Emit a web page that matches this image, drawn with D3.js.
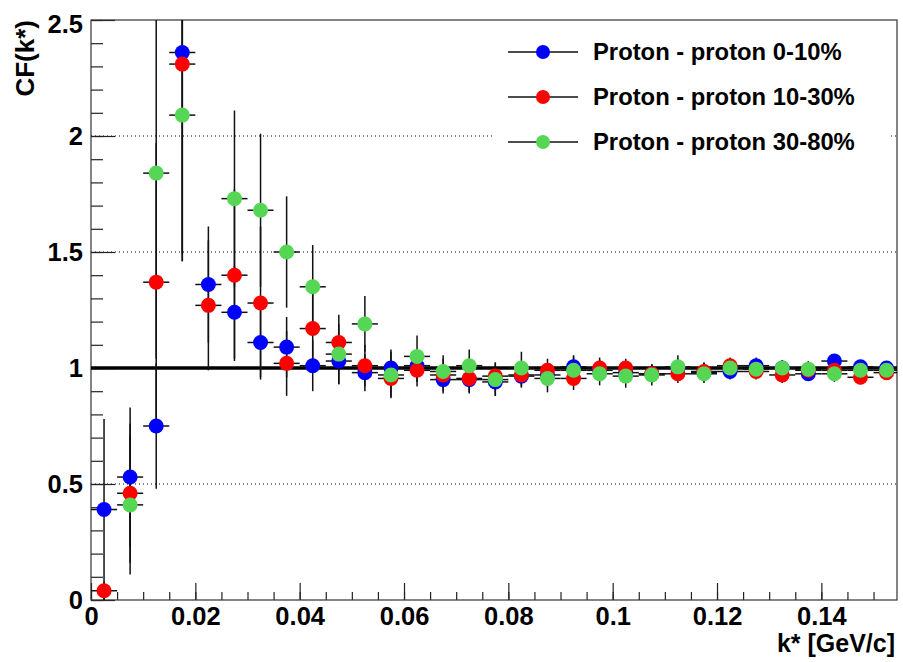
<!doctype html>
<head>
  <meta charset="utf-8">
  <script src="https://d3js.org/d3.v7.min.js"></script>
  <style>
    body { margin: 0; background: #fff; }
    text { font-family: "Liberation Sans", Arial, sans-serif; font-weight: bold; fill: #000; }
  </style>
</head>
<body>
<div id="viz"></div>
<script>

// bin centres of k* [GeV/c]
var kStar = [0.0025, 0.0075, 0.0125, 0.0175, 0.0225, 0.0275, 0.0325, 0.0375, 0.0425, 0.0475,
             0.0525, 0.0575, 0.0625, 0.0675, 0.0725, 0.0775, 0.0825, 0.0875, 0.0925, 0.0975,
             0.1025, 0.1075, 0.1125, 0.1175, 0.1225, 0.1275, 0.1325, 0.1375, 0.1425, 0.1475, 0.1525]

var cf0to10 = [0.39, 0.53, 0.75, 2.36, 1.36, 1.24, 1.11, 1.09, 1.01, 1.03,
               0.98, 1.00, 1.01, 0.95, 0.95, 0.94, 0.965, 0.97, 1.005, 0.99,
               0.98, 0.975, 1.00, 0.98, 0.985, 1.01, 1.00, 0.975, 1.03, 1.005, 1.00]
var err0to10 = [0.39, 0.30, 0.27, 0.90, 0.25, 0.20, 0.15, 0.13, 0.11, 0.10,
                0.08, 0.08, 0.07, 0.06, 0.06, 0.06, 0.05, 0.05, 0.05, 0.045,
                0.04, 0.04, 0.04, 0.04, 0.035, 0.035, 0.035, 0.03, 0.03, 0.03, 0.03]

var cf10to30 = [0.04, 0.46, 1.37, 2.31, 1.27, 1.40, 1.28, 1.02, 1.17, 1.11,
                1.01, 0.955, 0.99, 0.97, 0.955, 0.965, 0.97, 0.99, 0.955, 1.00,
                1.00, 0.975, 0.975, 0.985, 1.01, 0.985, 0.97, 0.99, 0.99, 0.96, 0.98]
var err10to30 = [0.04, 0.30, 0.60, 0.85, 0.28, 0.37, 0.33, 0.14, 0.17, 0.12,
                 0.09, 0.08, 0.07, 0.07, 0.06, 0.06, 0.05, 0.05, 0.05, 0.045,
                 0.04, 0.04, 0.04, 0.04, 0.035, 0.035, 0.035, 0.03, 0.03, 0.03, 0.03]

var cf30to80 = [null, 0.41, 1.84, 2.09, null, 1.73, 1.68, 1.50, 1.35, 1.06,
                1.19, 0.97, 1.05, 0.985, 1.01, 0.95, 1.00, 0.955, 0.99, 0.975,
                0.965, 0.97, 1.005, 0.975, 1.00, 0.995, 1.00, 0.995, 0.975, 0.99, 0.99]
var err30to80 = [null, 0.30, 0.80, 0.60, null, 0.38, 0.33, 0.24, 0.18, 0.13,
                 0.12, 0.10, 0.09, 0.07, 0.07, 0.07, 0.07, 0.06, 0.06, 0.05,
                 0.05, 0.045, 0.05, 0.04, 0.04, 0.04, 0.035, 0.035, 0.035, 0.03, 0.03]

var seriesNames = ['Proton - proton 0-10%', 'Proton - proton 10-30%', 'Proton - proton 30-80%']
var seriesColors = ['#0000ff', '#ff0000', '#55d655']
var xTicks = [0, 0.02, 0.04, 0.06, 0.08, 0.1, 0.12, 0.14]
var yTicks = [0, 0.5, 1, 1.5, 2, 2.5]
var binHalfWidth = 0.0025

var series = [
  { name: seriesNames[0], color: seriesColors[0], vals: cf0to10, errs: err0to10 },
  { name: seriesNames[1], color: seriesColors[1], vals: cf10to30, errs: err10to30 },
  { name: seriesNames[2], color: seriesColors[2], vals: cf30to80, errs: err30to80 }
]

var W = 903, H = 662
var padL = 91, padR = 897, padT = 20, padB = 600

var x = d3.scaleLinear().domain([0, 0.1545]).range([padL, padR])
var y = d3.scaleLinear().domain([0, 2.5]).range([padB, padT])

var svg = d3.select('#viz').append('svg')
  .attr('width', W)
  .attr('height', H)

svg.append('defs').append('clipPath').attr('id', 'plotclip')
  .append('rect')
  .attr('x', padL).attr('y', padT)
  .attr('width', padR - padL).attr('height', padB - padT)

// dotted horizontal grid
svg.append('g').selectAll('line')
  .data(yTicks.filter(function(v) { return v > 0 && v < 2.5 && v != 1; }))
  .enter().append('line')
  .attr('x1', padL).attr('x2', padR)
  .attr('y1', function(d) { return y(d); })
  .attr('y2', function(d) { return y(d); })
  .style('stroke', '#000')
  .style('stroke-width', 1)
  .style('stroke-dasharray', '1,3')

// y axis: minor then major ticks, pointing into the frame
var yMinor = d3.range(0, 2.5001, 0.1)
svg.append('g').attr('transform', 'translate(' + padL + ',0)')
  .call(d3.axisLeft(y).tickValues(yMinor).tickSize(-12).tickFormat(''))
  .call(function(g) { g.select('.domain').remove(); })
svg.append('g').attr('transform', 'translate(' + padL + ',0)')
  .call(d3.axisLeft(y).tickValues(yTicks).tickSize(-24).tickPadding(8)
    .tickFormat(function(d) { return d3.format('')(d); }))
  .call(function(g) {
    g.select('.domain').remove()
    g.selectAll('text').style('font-size', '25.5px')
      .attr('y', function(d) { return d == 2.5 ? 4 : 0; })
  })

// x axis
var xMinor = d3.range(0, 0.1546, 0.005)
svg.append('g').attr('transform', 'translate(0,' + padB + ')')
  .call(d3.axisBottom(x).tickValues(xMinor).tickSize(-8).tickFormat(''))
  .call(function(g) { g.select('.domain').remove(); })
svg.append('g').attr('transform', 'translate(0,' + padB + ')')
  .call(d3.axisBottom(x).tickValues(xTicks).tickSize(-17).tickPadding(7)
    .tickFormat(function(d) { return d3.format('')(d); }))
  .call(function(g) {
    g.select('.domain').remove()
    g.selectAll('text').style('font-size', '25.5px')
  })

svg.selectAll('.tick line').style('stroke', '#222').style('stroke-width', 1.2)

// frame
svg.append('rect')
  .attr('x', padL).attr('y', padT)
  .attr('width', padR - padL).attr('height', padB - padT)
  .style('fill', 'none')
  .style('stroke', '#333')
  .style('stroke-width', 1.2)

// reference line at CF = 1
svg.append('line')
  .attr('x1', padL).attr('x2', padR)
  .attr('y1', y(1)).attr('y2', y(1))
  .style('stroke', '#000')
  .style('stroke-width', 3.5)

var plot = svg.append('g').attr('clip-path', 'url(#plotclip)')

// error bars
series.forEach(function(s) {
  var pts = kStar.map(function(k, i) { return { k: k, v: s.vals[i], e: s.errs[i] }; })
    .filter(function(p) { return p.v != null; })
  var g = plot.append('g')
  g.selectAll('line.ex').data(pts).enter().append('line')
    .attr('x1', function(d) { return x(d.k - binHalfWidth); })
    .attr('x2', function(d) { return x(d.k + binHalfWidth); })
    .attr('y1', function(d) { return y(d.v); })
    .attr('y2', function(d) { return y(d.v); })
    .style('stroke', '#111').style('stroke-width', 1.5)
  g.selectAll('line.ey').data(pts).enter().append('line')
    .attr('x1', function(d) { return x(d.k); })
    .attr('x2', function(d) { return x(d.k); })
    .attr('y1', function(d) { return y(d.v - d.e); })
    .attr('y2', function(d) { return y(d.v + d.e); })
    .style('stroke', '#111').style('stroke-width', 1.5)
})

// markers
series.forEach(function(s) {
  var pts = kStar.map(function(k, i) { return { k: k, v: s.vals[i] }; })
    .filter(function(p) { return p.v != null; })
  plot.append('g').selectAll('circle').data(pts).enter().append('circle')
    .attr('r', 7.5)
    .attr('cx', function(d) { return x(d.k); })
    .attr('cy', function(d) { return y(d.v); })
    .style('fill', s.color)
})

// legend
var legend = svg.append('g')
legend.append('rect')
  .attr('x', 492).attr('y', 24).attr('width', 398).attr('height', 140)
  .style('fill', '#fff')
var entries = legend.selectAll('g.entry').data(series).enter().append('g')
  .attr('transform', function(d, i) { return 'translate(0,' + (52 + i * 45) + ')'; })
entries.append('line')
  .attr('x1', 508).attr('x2', 578).attr('y1', 0).attr('y2', 0)
  .style('stroke', '#111').style('stroke-width', 1.5)
entries.append('circle')
  .attr('cx', 543).attr('cy', 0).attr('r', 7)
  .style('fill', function(d) { return d.color; })
entries.append('text')
  .attr('x', 593).attr('y', 0).attr('dy', '0.35em')
  .style('font-size', '23.8px')
  .text(function(d) { return d.name; })

// axis titles
svg.append('text')
  .attr('transform', 'translate(34,20) rotate(-90)')
  .attr('text-anchor', 'end')
  .style('font-size', '26px')
  .text('CF(k*)')

svg.append('text')
  .attr('x', 895).attr('y', 652)
  .attr('text-anchor', 'end')
  .style('font-size', '25px')
  .text('k* [GeV/c]')

</script>
</body>
